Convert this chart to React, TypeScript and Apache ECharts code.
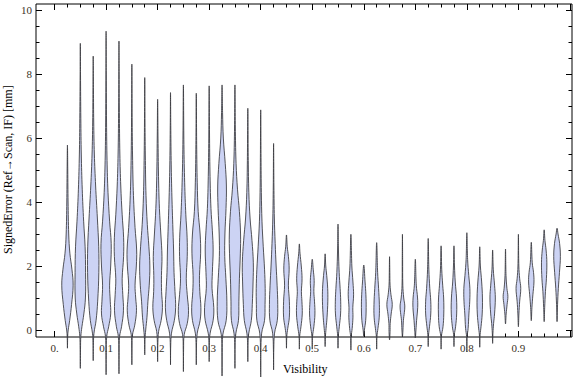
import React, { useEffect, useRef } from "react";
import * as echarts from "echarts";

// Visibility bin centres (one violin each)
const visibility = [
  0.025, 0.05, 0.075, 0.1, 0.125, 0.15, 0.175, 0.2, 0.225, 0.25,
  0.275, 0.3, 0.325, 0.35, 0.375, 0.4, 0.425, 0.45, 0.475, 0.5,
  0.525, 0.55, 0.575, 0.6, 0.625, 0.65, 0.675, 0.7, 0.725, 0.75,
  0.775, 0.8, 0.825, 0.85, 0.875, 0.9, 0.925, 0.95, 0.975,
];

// Violin profiles: [signed error (mm), relative half width]
const profiles: number[][][] = [
  [[-0.57,0],[-0.2,0.04],[0.0,0.12],[0.3,0.35],[0.8,0.65],[1.4,0.89],[1.9,0.7],[2.4,0.38],[3.0,0.2],[4.0,0.1],[5.0,0.05],[5.78,0]],
  [[-1.2,0],[-0.6,0.03],[-0.2,0.08],[0.1,0.25],[0.5,0.55],[1.0,0.8],[1.8,0.82],[2.6,0.75],[3.4,0.52],[4.4,0.3],[5.5,0.15],[6.6,0.08],[8.0,0.03],[8.96,0]],
  [[-0.96,0],[-0.4,0.04],[-0.1,0.12],[0.3,0.45],[0.9,0.7],[1.8,0.88],[2.6,0.86],[3.5,0.65],[4.5,0.38],[5.5,0.18],[6.5,0.08],[7.5,0.04],[8.56,0]],
  [[-1.4,0],[-0.7,0.03],[-0.2,0.1],[0.1,0.4],[0.5,0.72],[0.9,0.65],[1.4,0.55],[2.0,0.72],[2.7,0.8],[3.4,0.55],[4.3,0.3],[5.3,0.15],[6.5,0.07],[8.0,0.03],[9.34,0]],
  [[-1.37,0],[-0.7,0.03],[-0.2,0.1],[0.1,0.4],[0.6,0.7],[1.1,0.6],[1.6,0.5],[2.3,0.72],[2.9,0.72],[3.6,0.5],[4.5,0.28],[5.5,0.14],[6.8,0.06],[8.0,0.03],[9.03,0]],
  [[-1.09,0],[-0.5,0.03],[-0.15,0.1],[0.15,0.45],[0.6,0.72],[1.0,0.6],[1.4,0.5],[2.0,0.7],[2.5,0.75],[3.2,0.5],[4.2,0.25],[5.3,0.12],[6.5,0.05],[8.31,0]],
  [[-0.78,0],[-0.3,0.04],[0.0,0.15],[0.4,0.35],[0.9,0.5],[1.4,0.7],[2.0,0.8],[2.6,0.65],[3.3,0.4],[4.2,0.2],[5.3,0.1],[6.5,0.04],[7.89,0]],
  [[-0.99,0],[-0.4,0.04],[-0.05,0.15],[0.3,0.55],[0.7,0.75],[1.2,0.62],[1.7,0.6],[2.3,0.68],[3.0,0.5],[3.8,0.28],[4.8,0.14],[6.0,0.06],[7.21,0]],
  [[-1.09,0],[-0.5,0.03],[-0.1,0.15],[0.3,0.6],[0.7,0.8],[1.2,0.7],[1.8,0.55],[2.5,0.48],[3.3,0.35],[4.3,0.2],[5.3,0.1],[6.4,0.04],[7.42,0]],
  [[-1.3,0],[-0.6,0.03],[-0.15,0.12],[0.2,0.6],[0.6,0.8],[1.1,0.6],[1.6,0.45],[2.3,0.6],[2.9,0.58],[3.6,0.38],[4.6,0.2],[5.8,0.08],[7.66,0]],
  [[-1.09,0],[-0.5,0.03],[-0.1,0.15],[0.3,0.6],[0.7,0.72],[1.2,0.55],[1.7,0.5],[2.4,0.68],[3.0,0.6],[3.7,0.3],[4.6,0.15],[5.8,0.06],[7.4,0]],
  [[-0.99,0],[-0.4,0.04],[-0.1,0.15],[0.3,0.62],[0.7,0.72],[1.3,0.45],[1.8,0.5],[2.5,0.62],[3.1,0.5],[3.8,0.28],[4.8,0.14],[6.0,0.06],[7.63,0]],
  [[-1.44,0],[-0.7,0.03],[-0.15,0.12],[0.3,0.65],[0.9,0.75],[1.6,0.6],[2.3,0.42],[3.0,0.45],[3.8,0.62],[4.5,0.68],[5.2,0.5],[6.0,0.2],[6.8,0.08],[7.66,0]],
  [[-1.2,0],[-0.5,0.03],[-0.1,0.15],[0.3,0.55],[0.9,0.62],[1.6,0.7],[2.4,0.85],[3.0,0.88],[3.7,0.7],[4.4,0.4],[5.2,0.18],[6.2,0.07],[7.66,0]],
  [[-0.99,0],[-0.4,0.04],[-0.1,0.15],[0.3,0.55],[0.8,0.7],[1.5,0.82],[2.1,0.86],[2.8,0.65],[3.5,0.35],[4.3,0.16],[5.3,0.07],[6.93,0]],
  [[-1.51,0],[-0.7,0.03],[-0.1,0.15],[0.3,0.6],[0.8,0.68],[1.3,0.7],[1.9,0.6],[2.6,0.4],[3.4,0.2],[4.3,0.1],[5.4,0.05],[6.88,0]],
  [[-1.25,0],[-0.6,0.03],[-0.1,0.15],[0.3,0.58],[0.8,0.65],[1.4,0.55],[2.0,0.4],[2.7,0.25],[3.5,0.12],[4.5,0.05],[5.83,0]],
  [[-0.57,0],[-0.2,0.05],[0.05,0.2],[0.4,0.45],[0.9,0.45],[1.4,0.3],[1.9,0.42],[2.3,0.3],[2.6,0.12],[2.97,0]],
  [[-0.6,0],[-0.2,0.05],[0.1,0.25],[0.5,0.45],[0.9,0.4],[1.2,0.32],[1.6,0.42],[2.0,0.3],[2.4,0.1],[2.69,0]],
  [[-0.6,0],[-0.2,0.05],[0.1,0.25],[0.5,0.42],[0.9,0.35],[1.2,0.25],[1.55,0.3],[1.9,0.15],[2.21,0]],
  [[-0.52,0],[-0.2,0.05],[0.05,0.15],[0.4,0.3],[0.9,0.42],[1.3,0.4],[1.7,0.25],[2.0,0.1],[2.38,0]],
  [[-0.57,0],[-0.2,0.05],[0.1,0.2],[0.5,0.4],[0.9,0.42],[1.3,0.33],[1.8,0.18],[2.5,0.07],[3.31,0]],
  [[-0.63,0],[-0.2,0.05],[0.05,0.2],[0.4,0.32],[0.7,0.3],[1.1,0.42],[1.5,0.32],[2.0,0.15],[2.99,0]],
  [[-0.2,0],[0.0,0.1],[0.3,0.3],[0.7,0.37],[1.1,0.33],[1.5,0.2],[2.03,0]],
  [[-0.6,0],[-0.2,0.05],[0.05,0.2],[0.4,0.4],[0.8,0.42],[1.3,0.3],[1.8,0.15],[2.73,0]],
  [[-0.31,0],[-0.05,0.08],[0.2,0.1],[0.5,0.25],[0.8,0.42],[1.1,0.22],[1.4,0.08],[1.8,0.04],[2.29,0]],
  [[-0.21,0],[0.0,0.08],[0.3,0.15],[0.55,0.3],[0.75,0.37],[1.0,0.2],[1.4,0.06],[2.2,0.03],[2.99,0]],
  [[-0.25,0],[0.0,0.1],[0.3,0.2],[0.7,0.37],[1.0,0.35],[1.4,0.15],[2.21,0]],
  [[-0.52,0],[-0.15,0.06],[0.1,0.2],[0.5,0.4],[0.9,0.4],[1.3,0.25],[1.9,0.1],[2.86,0]],
  [[-0.6,0],[-0.2,0.05],[0.1,0.3],[0.5,0.42],[1.0,0.4],[1.4,0.25],[1.9,0.1],[2.63,0]],
  [[-0.52,0],[-0.15,0.06],[0.1,0.25],[0.5,0.42],[1.0,0.4],[1.5,0.2],[2.0,0.08],[2.63,0]],
  [[-0.68,0],[-0.2,0.05],[0.05,0.2],[0.5,0.32],[0.9,0.45],[1.3,0.47],[1.7,0.3],[2.2,0.12],[3.04,0]],
  [[-0.54,0],[-0.15,0.06],[0.1,0.2],[0.5,0.38],[1.0,0.42],[1.5,0.3],[2.0,0.1],[2.6,0]],
  [[-0.42,0],[-0.1,0.05],[0.2,0.15],[0.5,0.3],[1.0,0.42],[1.4,0.3],[1.9,0.1],[2.5,0]],
  [[0.19,0],[0.5,0.1],[0.8,0.25],[1.05,0.37],[1.3,0.22],[1.7,0.08],[2.53,0]],
  [[0.1,0],[0.5,0.08],[0.9,0.2],[1.3,0.37],[1.6,0.2],[2.0,0.07],[2.99,0]],
  [[0.29,0],[0.7,0.1],[1.1,0.25],[1.5,0.42],[1.8,0.35],[2.1,0.15],[2.74,0]],
  [[0.26,0],[0.7,0.08],[1.2,0.2],[1.6,0.35],[2.1,0.42],[2.5,0.3],[2.8,0.12],[3.13,0]],
  [[0.26,0],[0.8,0.08],[1.3,0.2],[1.8,0.38],[2.3,0.52],[2.7,0.4],[3.0,0.15],[3.18,0]],
];

const xMajorTicks = [0, 0.1, 0.2, 0.3, 0.4, 0.5, 0.6, 0.7, 0.8, 0.9, 1.0];
const xMinorTicks = [
  0, 0.025, 0.05, 0.075, 0.1, 0.125, 0.15, 0.175, 0.2, 0.225, 0.25, 0.275,
  0.3, 0.325, 0.35, 0.375, 0.4, 0.425, 0.45, 0.475, 0.5, 0.525, 0.55, 0.575,
  0.6, 0.625, 0.65, 0.675, 0.7, 0.725, 0.75, 0.775, 0.8, 0.825, 0.85, 0.875,
  0.9, 0.925, 0.95, 0.975, 1.0,
];
const xTickLabels = [0, 0.1, 0.2, 0.3, 0.4, 0.5, 0.6, 0.7, 0.8, 0.9];
const yMajorTicks = [0, 2, 4, 6, 8, 10];
const yMinorTicks = [
  0, 0.5, 1, 1.5, 2, 2.5, 3, 3.5, 4, 4.5, 5, 5.5, 6, 6.5, 7, 7.5, 8, 8.5, 9, 9.5, 10,
];

const X_MIN = -0.036;
const X_MAX = 1.004;
const Y_MIN = -0.22;
const Y_MAX = 10.19;
const HALF_WIDTH = 0.0124;
const FONT = "Liberation Serif";
const TEXT_COLOR = "#3a3226";

function xAxisDef(position: "top" | "bottom", major: boolean, labels: boolean) {
  return {
    type: "value",
    min: X_MIN,
    max: X_MAX,
    position,
    axisLine: { show: false, onZero: false },
    splitLine: { show: false },
    axisTick: {
      show: true,
      inside: true,
      length: major ? 6 : 3.5,
      customValues: major ? xMajorTicks : xMinorTicks,
      lineStyle: { color: "#000", width: 1 },
    },
    axisLabel: labels
      ? {
          show: true,
          customValues: xTickLabels,
          formatter: (v: number) => (v === 0 ? "0." : v.toFixed(1)),
          margin: 5,
          fontFamily: FONT,
          fontSize: 11,
          color: TEXT_COLOR,
        }
      : { show: false },
  };
}

function yAxisDef(position: "left" | "right", major: boolean, labels: boolean) {
  return {
    type: "value",
    min: Y_MIN,
    max: Y_MAX,
    position,
    axisLine: { show: false, onZero: false },
    splitLine: { show: false },
    axisTick: {
      show: true,
      inside: true,
      length: major ? 6 : 3.5,
      customValues: major ? yMajorTicks : yMinorTicks,
      lineStyle: { color: "#000", width: 1 },
    },
    axisLabel: labels
      ? {
          show: true,
          customValues: yMajorTicks,
          formatter: (v: number) => String(v),
          margin: 4,
          fontFamily: FONT,
          fontSize: 11,
          color: TEXT_COLOR,
        }
      : { show: false },
  };
}

export default function App() {
  const ref = useRef<HTMLDivElement>(null);

  useEffect(() => {
    if (!ref.current) return;
    const chart = echarts.init(ref.current, undefined, { renderer: "svg" });

    const option: any = {
      animation: false,
      backgroundColor: "#ffffff",
      grid: {
        left: 36,
        right: 4,
        top: 4,
        bottom: 40,
        containLabel: false,
        outerBoundsMode: "none",
        show: true,
        borderColor: "#000",
        borderWidth: 1,
        backgroundColor: "transparent",
      },
      xAxis: [
        xAxisDef("bottom", true, true),
        xAxisDef("bottom", false, false),
        xAxisDef("top", true, false),
        xAxisDef("top", false, false),
      ],
      yAxis: [
        yAxisDef("left", true, true),
        yAxisDef("left", false, false),
        yAxisDef("right", true, false),
        yAxisDef("right", false, false),
      ],
      graphic: [
        {
          type: "text",
          x: 283,
          y: 363,
          style: { text: "Visibility", fontFamily: FONT, fontSize: 12, fill: "#000" },
        },
        {
          type: "text",
          x: 2,
          y: 254,
          rotation: Math.PI / 2,
          style: {
            text: "SignedError (Ref\u2192Scan, IF) [mm]",
            fontFamily: FONT,
            fontSize: 12,
            fill: "#000",
          },
        },
      ],
      series: [
        {
          type: "custom",
          xAxisIndex: 0,
          yAxisIndex: 0,
          clip: false,
          encode: { x: 0, y: 1 },
          data: visibility.map((x, i) => [x, 0, i]),
          renderItem: (params: any, api: any) => {
            const x = api.value(0);
            const idx = api.value(2);
            const prof = profiles[idx];
            const right = prof.map(([y, w]) => api.coord([x + w * HALF_WIDTH, y]));
            const left = prof
              .slice()
              .reverse()
              .map(([y, w]) => api.coord([x - w * HALF_WIDTH, y]));
            const pts = right.concat(left.slice(1, left.length - 1));
            return {
              type: "polygon",
              shape: { points: pts, smooth: 0.4 },
              style: {
                fill: "#CCD3F4",
                stroke: "rgba(55,55,60,0.85)",
                lineWidth: 1,
              },
            };
          },
          z: 1,
        },
      ],
    };

    chart.setOption(option);
    return () => chart.dispose();
  }, []);

  return (
    <div
      ref={ref}
      style={{ position: "fixed", left: 0, top: 0, width: 576, height: 377 }}
    />
  );
}
